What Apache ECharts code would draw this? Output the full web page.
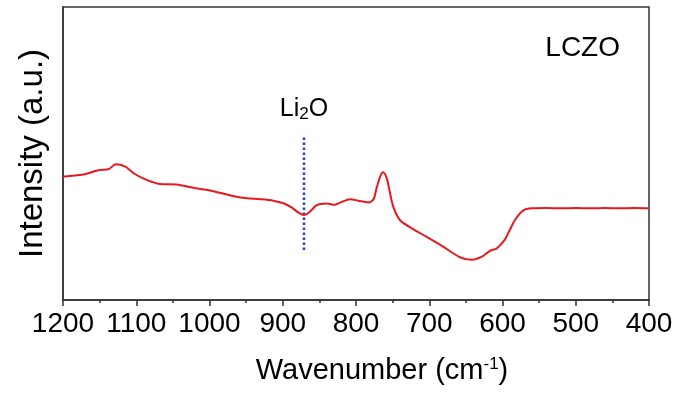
<!DOCTYPE html>
<html>
<head>
<meta charset="utf-8">
<script src="https://cdn.jsdelivr.net/npm/echarts@6/dist/echarts.min.js"></script>
<style>
  html, body { margin: 0; padding: 0; background: #fff; }
  #chart { width: 680px; height: 397px; }
</style>
</head>
<body>
<div id="chart"></div>
<script>
// wavenumber (cm-1) and intensity (a.u.)
const wavenumber = [1200, 1172, 1159, 1150, 1138, 1128, 1115, 1102, 1086, 1068, 1045, 1022, 1004, 986, 968, 949, 931, 913, 899, 888, 879, 871, 863, 854, 840, 829, 820, 808, 797, 783, 776, 772, 767, 763, 758, 754, 749, 740, 722, 704, 681, 658, 642, 628, 617, 608, 597, 590, 583, 572, 560, 540, 520, 500, 480, 460, 440, 420, 400];
const intensity = [42.1, 42.8, 43.8, 44.4, 44.6, 46.3, 45.5, 43.0, 41.0, 39.6, 39.4, 38.3, 37.6, 36.6, 35.5, 34.7, 34.4, 33.9, 33.0, 31.6, 29.9, 29.0, 30.1, 32.3, 32.9, 32.5, 33.4, 34.4, 33.9, 33.3, 34.4, 38.1, 42.1, 43.6, 41.5, 37.0, 31.8, 27.3, 24.2, 21.6, 18.2, 14.6, 13.7, 14.8, 16.8, 17.6, 20.5, 23.9, 27.3, 30.5, 31.3, 31.4, 31.3, 31.4, 31.3, 31.4, 31.3, 31.4, 31.3];

// Li2O marker line
const li2oX = [871, 871];
const li2oY = [17.1, 55.6];

const font = "'Liberation Sans', Arial, sans-serif";

const chart = echarts.init(document.getElementById("chart"));

const option = {
  animation: false,
  grid: {
    left: 63,
    right: 31,
    top: 7,
    bottom: 97,
    show: true,
    borderColor: "#333",
    borderWidth: 1.5,
  },
  xAxis: {
    type: "value",
    min: 400,
    max: 1200,
    interval: 100,
    inverse: true,
    name: "{a|Wavenumber (cm}{s|-1}{a|)}",
    nameLocation: "middle",
    nameGap: 56,
    nameTextStyle: {
      padding: [0, 0, 0, 52],
      rich: {
        a: { fontFamily: font, fontSize: 29, color: "#000" },
        s: { fontFamily: font, fontSize: 17, color: "#000", verticalAlign: "top", padding: [0, 0, 10, 0] },
      },
    },
    axisLine: { lineStyle: { color: "#333", width: 1.5 } },
    axisTick: { show: true, inside: false, length: 6, lineStyle: { color: "#333", width: 1.5 } },
    minorTick: { show: true, splitNumber: 2, length: 3, lineStyle: { color: "#333", width: 1.5 } },
    splitLine: { show: false },
    axisLabel: { fontFamily: font, fontSize: 28, color: "#000", margin: 10, formatter: (v) => String(v) },
  },
  yAxis: {
    type: "value",
    min: 0,
    max: 100,
    name: "Intensity (a.u.)",
    nameLocation: "middle",
    nameGap: 14,
    nameTextStyle: { fontFamily: font, fontSize: 33, color: "#000" },
    axisLine: { show: true, lineStyle: { color: "#333", width: 1.5 } },
    axisTick: { show: false },
    axisLabel: { show: false },
    splitLine: { show: false },
  },
  graphic: [
    {
      type: "text",
      right: 60,
      top: 34,
      style: { text: "LCZO", fontFamily: font, fontSize: 28, fill: "#000" },
    },
  ],
  series: [
    {
      type: "line",
      data: wavenumber.map((w, i) => [w, intensity[i]]),
      showSymbol: false,
      smooth: 0.3,
      lineStyle: { color: "#e8191e", width: 2 },
      z: 3,
    },
    {
      type: "line",
      data: li2oX.map((w, i) => [w, li2oY[i]]),
      showSymbol: true,
      symbol: "circle",
      symbolSize: 0,
      lineStyle: { color: "#2340d0", width: 2.5, type: [2.5, 2.5] },
      label: {
        show: true,
        position: "top",
        distance: 14,
        formatter: (p) => (p.dataIndex === 1 ? "{a|Li}{b|2}{a|O}" : ""),
        rich: {
          a: { fontFamily: font, fontSize: 25, color: "#000" },
          b: { fontFamily: font, fontSize: 17, color: "#000", verticalAlign: "bottom", padding: [10, 0, 0, 0] },
        },
      },
      z: 2,
    },
  ],
};

chart.setOption(option);
</script>
</body>
</html>
